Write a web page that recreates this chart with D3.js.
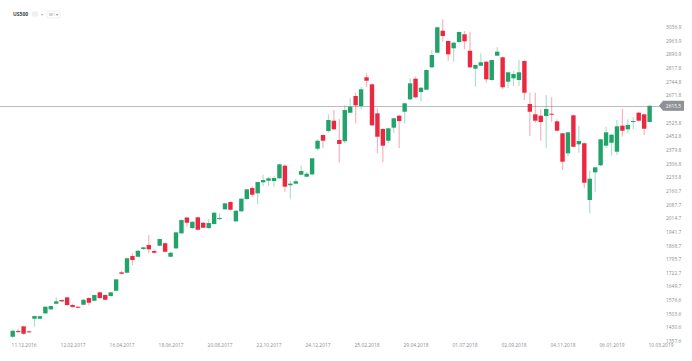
<!DOCTYPE html>
<html>
<head>
<meta charset="utf-8">
<script src="https://cdn.jsdelivr.net/npm/d3@7"></script>
<style>
	body { margin: 0; background: #fff; }
	svg { display: block; font-family: "Open Sans", sans-serif; }
</style>
</head>
<body>
<script>
// weekly candles, first week starts 27.11.2016
var firstWeek = "27.11.2016";

var opens = [1380.3, 1410.8, 1435.9, 1409.2, 1476.6, 1477.0, 1505.5, 1526.9, 1556.8, 1576.6,
	1591.0, 1549.9, 1540.8, 1551.5, 1587.3, 1572.9, 1617.8, 1603.4, 1598.0, 1626.3,
	1724.8, 1722.7, 1812.0, 1808.2, 1849.4, 1870.8, 1838.7, 1867.0, 1880.4, 1808.2,
	1853.1, 1933.4, 2017.9, 1961.4, 2019.0, 1990.1, 1961.4, 1983.2, 2009.9, 2061.8,
	2100.8, 1997.6, 2051.1, 2116.8, 2175.7, 2147.3, 2206.2, 2214.9, 2213.3, 2227.7,
	2295.4, 2190.6, 2199.1, 2246.8, 2236.1, 2248.6, 2385.9, 2459.2, 2480.6, 2535.7,
	2432.8, 2425.9, 2578.5, 2667.8, 2614.4, 2767.8, 2730.4, 2575.2, 2491.7, 2428.7,
	2498.5, 2562.4, 2583.8, 2650.1, 2760.4, 2689.2, 2701.5, 2821.3, 2899.4, 3017.1,
	2962.0, 2923.0, 2956.7, 2997.8, 2910.1, 2813.8, 2829.9, 2851.3, 2753.4, 2883.4,
	2874.8, 2744.3, 2762.5, 2753.4, 2855.0, 2625.0, 2569.9, 2562.4, 2560.8, 2573.1,
	2532.5, 2468.3, 2361.3, 2564.6, 2409.4, 2415.2, 2111.5, 2259.6, 2297.1, 2402.3,
	2418.0, 2370.0, 2509.1, 2489.7, 2528.7, 2578.5, 2569.9, 2528.7];

var highs = [1418.6, 1421.5, 1440.0, 1412.0, 1494.0, 1493.0, 1544.0, 1548.0, 1591.0, 1580.0,
	1594.0, 1556.8, 1544.0, 1581.0, 1590.0, 1606.0, 1621.0, 1606.0, 1621.0, 1690.0,
	1731.9, 1803.0, 1826.3, 1843.0, 1861.0, 1924.3, 1847.8, 1906.0, 1884.0, 1833.0,
	1942.0, 2008.0, 2021.0, 1998.0, 2022.0, 1993.0, 2009.9, 2047.0, 2040.3, 2097.0,
	2104.0, 2057.0, 2122.0, 2172.0, 2186.4, 2211.0, 2246.8, 2236.3, 2239.6, 2306.0,
	2302.5, 2213.6, 2224.2, 2295.0, 2261.2, 2338.0, 2436.2, 2462.0, 2569.9, 2592.9,
	2545.0, 2618.0, 2655.5, 2686.4, 2717.5, 2789.2, 2734.0, 2602.0, 2495.0, 2498.0,
	2552.0, 2566.0, 2632.0, 2762.5, 2771.1, 2715.0, 2810.0, 2913.9, 3038.0, 3078.1,
	2965.0, 2956.0, 3013.0, 3015.3, 3011.8, 2836.0, 2896.2, 2854.0, 2863.0, 2928.3,
	2878.0, 2797.0, 2803.1, 2860.4, 2858.0, 2685.4, 2685.4, 2596.7, 2673.2, 2660.8,
	2543.2, 2471.0, 2476.0, 2568.0, 2507.3, 2418.0, 2268.3, 2289.0, 2439.0, 2503.6,
	2464.0, 2539.4, 2599.9, 2543.2, 2553.9, 2583.8, 2573.0, 2618.0];

var lows = [1373.3, 1401.7, 1392.0, 1403.0, 1432.9, 1474.0, 1502.0, 1523.0, 1553.0, 1566.0,
	1546.0, 1535.6, 1532.0, 1548.0, 1548.3, 1570.0, 1584.0, 1575.0, 1595.0, 1623.0,
	1713.1, 1720.0, 1763.8, 1805.0, 1846.0, 1826.3, 1826.0, 1864.0, 1831.0, 1805.0,
	1850.0, 1930.0, 1968.7, 1958.0, 1949.0, 1960.0, 1958.0, 1980.0, 2004.5, 2058.0,
	2056.0, 1993.9, 2048.0, 2113.0, 2125.9, 2090.1, 2186.9, 2186.8, 2180.7, 2224.0,
	2156.3, 2118.5, 2196.4, 2244.0, 2233.0, 2245.0, 2375.2, 2388.0, 2471.5, 2486.0,
	2311.0, 2415.2, 2575.0, 2521.5, 2596.6, 2714.8, 2508.0, 2361.3, 2313.1, 2415.2,
	2471.5, 2388.0, 2521.5, 2646.0, 2657.0, 2638.4, 2698.0, 2817.0, 2896.0, 2958.3,
	2856.7, 2851.3, 2953.0, 2917.6, 2818.0, 2717.5, 2827.0, 2739.0, 2750.0, 2880.0,
	2705.3, 2709.0, 2721.3, 2721.3, 2646.4, 2453.9, 2525.0, 2428.7, 2388.0, 2530.4,
	2479.0, 2271.9, 2346.9, 2393.0, 2364.5, 2174.2, 2040.3, 2156.3, 2294.0, 2388.0,
	2348.5, 2352.3, 2450.1, 2468.3, 2489.7, 2532.0, 2459.2, 2526.0];

var closes = [1412.2, 1405.4, 1396.3, 1405.4, 1491.0, 1490.0, 1540.8, 1544.5, 1569.6, 1569.6,
	1549.9, 1539.2, 1535.6, 1578.2, 1562.2, 1603.4, 1587.3, 1578.2, 1617.8, 1687.3,
	1717.3, 1800.1, 1790.6, 1840.3, 1858.5, 1847.8, 1829.6, 1902.9, 1834.9, 1829.6,
	1938.7, 2004.5, 1990.1, 1995.1, 1952.7, 1963.4, 1988.5, 2043.6, 2015.2, 2093.9,
	2059.6, 2054.3, 2118.5, 2168.7, 2139.9, 2207.8, 2218.5, 2227.7, 2229.3, 2302.5,
	2183.1, 2199.1, 2211.9, 2266.6, 2252.2, 2334.6, 2428.7, 2428.7, 2539.4, 2489.7,
	2411.4, 2592.9, 2610.6, 2618.0, 2703.6, 2749.6, 2511.1, 2450.1, 2402.3, 2495.1,
	2548.7, 2534.1, 2628.8, 2735.7, 2660.8, 2712.2, 2806.9, 2887.1, 3035.3, 2988.8,
	2890.9, 2952.9, 3010.2, 2960.4, 2821.3, 2833.6, 2848.1, 2757.1, 2860.4, 2904.8,
	2714.4, 2794.6, 2785.5, 2794.6, 2685.5, 2583.8, 2535.7, 2528.7, 2598.3, 2567.8,
	2482.2, 2316.4, 2473.6, 2396.6, 2427.1, 2204.0, 2225.5, 2286.4, 2436.2, 2473.6,
	2460.8, 2505.7, 2482.2, 2512.7, 2534.1, 2535.7, 2492.9, 2615.5];

var priceTicks = [3036.9, 2963.9, 2890.9, 2817.8, 2744.8, 2671.8, 2598.8, 2525.8, 2452.8, 2379.8,
	2306.8, 2233.8, 2160.7, 2087.7, 2014.7, 1941.7, 1868.7, 1795.7, 1722.7, 1649.7,
	1576.6, 1503.6, 1430.6, 1357.6];

var dateTicks = ["11.12.2016", "12.02.2017", "16.04.2017", "18.06.2017", "20.08.2017", "22.10.2017",
	"24.12.2017", "25.02.2018", "29.04.2018", "01.07.2018", "02.09.2018", "04.11.2018",
	"06.01.2019", "10.03.2019"];

var symbol = "US500";
var lastPrice = 2615.5;

var w = 692;
var h = 361;
var green = "#22a36b";
var red = "#eb2840";
var labelSize = 4.9;

var parseDate = d3.utcParse("%d.%m.%Y");
var start = parseDate(firstWeek);

var dataset = opens.map(function(o, i) {
	return {
		date: d3.utcWeek.offset(start, i),
		open: o,
		high: highs[i],
		low: lows[i],
		close: closes[i]
	};
});

var xScale = d3.scaleUtc()
	.domain([start, parseDate(dateTicks[dateTicks.length - 1])])
	.range([12.7, 660.5]);

var yScale = d3.scaleLinear()
	.domain([priceTicks[priceTicks.length - 1], priceTicks[0]])
	.range([341, 27]);

var bodyW = 4.4;

var svg = d3.select("body")
	.append("svg")
	.attr("width", w)
	.attr("height", h);

// last price line
svg.append("line")
	.attr("x1", 0)
	.attr("x2", 660)
	.attr("y1", Math.round(yScale(lastPrice)) + 0.5)
	.attr("y2", Math.round(yScale(lastPrice)) + 0.5)
	.attr("stroke", "#b9bcbf")
	.attr("stroke-width", 1);

var candles = svg.selectAll("g.candle")
	.data(dataset)
	.enter()
	.append("g")
	.attr("class", "candle");

candles.append("line")
	.attr("x1", function(d) { return xScale(d.date); })
	.attr("x2", function(d) { return xScale(d.date); })
	.attr("y1", function(d) { return yScale(d.high); })
	.attr("y2", function(d) { return yScale(d.low); })
	.attr("stroke", function(d) { return d.close >= d.open ? green : red; })
	.attr("stroke-opacity", 0.35)
	.attr("stroke-width", 1.2);

candles.append("rect")
	.attr("x", function(d) { return xScale(d.date) - bodyW / 2; })
	.attr("y", function(d) { return yScale(Math.max(d.open, d.close)); })
	.attr("width", bodyW)
	.attr("height", function(d) {
		return Math.max(1, Math.abs(yScale(d.open) - yScale(d.close)));
	})
	.attr("fill", function(d) { return d.close >= d.open ? green : red; });

// price axis on the right
var yAxis = d3.axisRight(yScale)
	.tickValues(priceTicks)
	.tickSize(0)
	.tickPadding(0)
	.tickFormat(d3.format(".1f"));

var yG = svg.append("g")
	.attr("transform", "translate(666,0)")
	.call(yAxis);
yG.select(".domain").remove();
yG.selectAll("text")
	.attr("fill", "#8a8d90")
	.attr("font-size", labelSize)
	.attr("font-family", "'Open Sans', sans-serif");

// date axis
var xAxis = d3.axisBottom(xScale)
	.tickValues(dateTicks.map(parseDate))
	.tickSize(0)
	.tickPadding(0)
	.tickFormat(d3.utcFormat("%d.%m.%Y"));

var xG = svg.append("g")
	.attr("transform", "translate(0,344)")
	.call(xAxis);
xG.select(".domain").remove();
xG.selectAll("text")
	.attr("fill", "#8a8d90")
	.attr("font-size", labelSize)
	.attr("font-family", "'Open Sans', sans-serif");

// last price marker
var ly = yScale(lastPrice);
svg.append("path")
	.attr("d", "M" + 659 + "," + ly + "L" + 663 + "," + (ly - 5) + "L" + 684 + "," + (ly - 5) +
		"L" + 684 + "," + (ly + 5) + "L" + 663 + "," + (ly + 5) + "Z")
	.attr("fill", "#8e9296");
svg.append("text")
	.attr("x", 673.5)
	.attr("y", ly)
	.attr("dy", "0.35em")
	.attr("text-anchor", "middle")
	.attr("fill", "#fff")
	.attr("font-size", labelSize)
	.text(d3.format(".1f")(lastPrice));

// header
svg.append("text")
	.attr("x", 13)
	.attr("y", 16)
	.attr("font-size", 5)
	.attr("font-weight", "bold")
	.attr("fill", "#3b3f44")
	.text(symbol);
svg.append("rect")
	.attr("x", 32).attr("y", 11.5)
	.attr("width", 6).attr("height", 5)
	.attr("rx", 1)
	.attr("fill", "#eef0f2");
svg.append("text")
	.attr("x", 41).attr("y", 16)
	.attr("font-size", 4)
	.attr("fill", "#aab")
	.text("\u25BE");
svg.append("rect")
	.attr("x", 47).attr("y", 11)
	.attr("width", 13).attr("height", 7)
	.attr("rx", 1.5)
	.attr("fill", "#fff")
	.attr("stroke", "#e3e5e7")
	.attr("stroke-width", 0.6);
svg.append("text")
	.attr("x", 49).attr("y", 15.8)
	.attr("font-size", 4)
	.attr("fill", "#8a8d90")
	.text("W1 \u25BE");
</script>
</body>
</html>
